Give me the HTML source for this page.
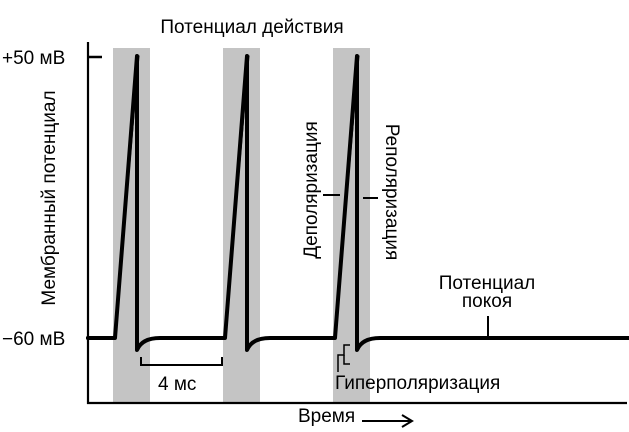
<!DOCTYPE html>
<html><head><meta charset="utf-8"><style>
html,body{margin:0;padding:0;background:#fff;}
svg{display:block;font-family:"Liberation Sans",sans-serif;}
</style></head><body>
<svg width="629" height="432" viewBox="0 0 629 432" xmlns="http://www.w3.org/2000/svg">
<rect x="113" y="48" width="37" height="354" fill="#c4c4c4"/>
<rect x="223" y="48" width="37" height="354" fill="#c4c4c4"/>
<rect x="333" y="48" width="37" height="354" fill="#c4c4c4"/>
<g stroke="#000" fill="none" stroke-linecap="butt">
<line x1="88" y1="42" x2="88" y2="404" stroke-width="2.2"/>
<line x1="87" y1="403" x2="627" y2="403" stroke-width="2.2"/>
<line x1="88" y1="57" x2="102" y2="57" stroke-width="2.5"/>
<line x1="86" y1="338" x2="90" y2="338" stroke-width="3"/>
<path d="M88 338 H115 L137 56 L137 350 Q142 338 160 338 H225 L247 56 L247 350 Q252 338 270 338 H335 L357 56 L357 350 Q362 338 380 338 H629" stroke-width="4" stroke-linejoin="round"/>
<path d="M115 338 L137 56 L139 56 Z M225 338 L247 56 L249 56 Z M335 338 L357 56 L359 56 Z" fill="#000" stroke-width="1"/>
<path d="M141 357 V365 H222 V357" stroke-width="2"/>
<line x1="323" y1="195" x2="340" y2="195" stroke-width="2"/>
<line x1="363" y1="198" x2="378" y2="198" stroke-width="2"/>
<line x1="488" y1="316" x2="488" y2="338" stroke-width="2"/>
<path d="M350 345 H344 V355 H338 V372" stroke-width="1.5"/>
<path d="M344 355 V364 H350" stroke-width="1.5"/>
<line x1="362" y1="421" x2="410" y2="421" stroke-width="2"/>
<path d="M402 415 L412 421 L402 427" stroke-width="2"/>
</g>
<g fill="#000" font-size="19">
<text x="252" y="33" text-anchor="middle">Потенциал действия</text>
<text x="2" y="64">+50 мВ</text>
<text x="2" y="345">−60 мВ</text>
<text x="158" y="390">4 мс</text>
<text x="335" y="389">Гиперполяризация</text>
<text x="298" y="422">Время</text>
<text x="487" y="289" text-anchor="middle">Потенциал</text>
<text x="487" y="307" text-anchor="middle">покоя</text>
<text transform="translate(55,198) rotate(-90)" text-anchor="middle">Мембранный потенциал</text>
<text transform="translate(317,190) rotate(-90)" text-anchor="middle">Деполяризация</text>
<text transform="translate(386,192) rotate(90)" text-anchor="middle">Реполяризация</text>
</g>
</svg>
</body></html>
